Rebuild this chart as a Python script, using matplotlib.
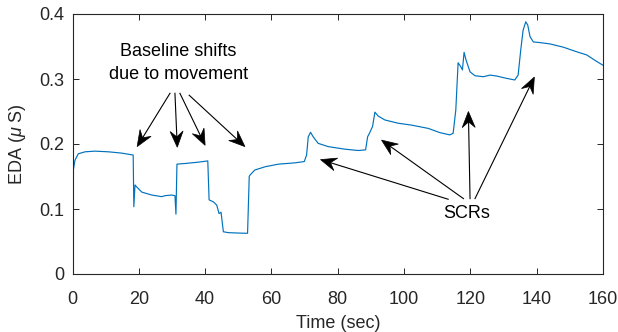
import matplotlib
matplotlib.use("Agg")
import matplotlib.pyplot as plt
from matplotlib.patches import Polygon
from matplotlib.lines import Line2D
import numpy as np

# ---- data ----
time_s = [0.25, 0.75, 1.75, 3.8, 6.8, 10.8, 14.8, 18.3, 18.5, 18.85, 19.35, 20.9, 23.9, 26.9,
          27.9, 29.9, 30.9, 31.2, 31.5, 33.9, 37.9, 40.8, 41.2, 42.5, 43.5, 44.2, 44.8, 45.5,
          47.0, 50.0, 52.8, 53.3, 53.5, 55.0, 58.1, 62.1, 67.1, 69.9, 70.6, 71.1, 71.8, 72.6,
          74.1, 77.1, 82.2, 86.2, 88.4, 89.0, 89.7, 90.5, 91.2, 92.2, 94.2, 98.2, 102.3, 107.3,
          110.8, 113.8, 114.8, 115.6, 116.3, 117.1, 117.6, 118.1, 118.7, 119.9, 121.4, 123.9,
          125.9, 127.9, 130.9, 133.4, 134.4, 135.2, 135.9, 136.7, 137.3, 138.0, 139.0, 141.0,
          144.0, 148.0, 152.0, 155.1, 158.1, 159.9]
eda_us = [0.160, 0.175, 0.185, 0.188, 0.189, 0.188, 0.186, 0.183, 0.1035, 0.137, 0.134, 0.126,
          0.1215, 0.119, 0.1205, 0.1215, 0.1205, 0.092, 0.169, 0.170, 0.172, 0.174, 0.114, 0.111,
          0.106, 0.093, 0.095, 0.065, 0.0636, 0.063, 0.0626, 0.150, 0.152, 0.160, 0.165, 0.169,
          0.171, 0.173, 0.183, 0.211, 0.218, 0.211, 0.201, 0.196, 0.192, 0.190, 0.191, 0.211,
          0.218, 0.227, 0.249, 0.243, 0.237, 0.232, 0.229, 0.224, 0.2175, 0.214, 0.2165, 0.252,
          0.325, 0.319, 0.314, 0.341, 0.329, 0.311, 0.305, 0.3035, 0.306, 0.3046, 0.301, 0.2985,
          0.306, 0.345, 0.375, 0.388, 0.383, 0.365, 0.357, 0.356, 0.354, 0.349, 0.342, 0.337,
          0.327, 0.3215]

x_ticks = [0, 20, 40, 60, 80, 100, 120, 140, 160]
y_ticks = [0, 0.1, 0.2, 0.3, 0.4]
y_tick_labels = ["0", "0.1", "0.2", "0.3", "0.4"]

movement_label = "Baseline shifts\ndue to movement"
movement_text_pos = (31.9, 0.3246)
# (tail, tip) in data units
movement_arrows = [((29.4, 0.278), (19.5, 0.196)),
                   ((30.9, 0.278), (31.6, 0.195)),
                   ((32.4, 0.278), (40.0, 0.198)),
                   ((35.2, 0.275), (52.0, 0.196))]

scr_label = "SCRs"
scr_text_pos = (119.0, 0.0928)
scr_arrows = [((113.3, 0.115), (74.8, 0.176)),
              ((117.9, 0.116), (93.2, 0.206)),
              ((119.9, 0.116), (119.4, 0.250)),
              ((121.4, 0.116), (139.3, 0.303))]

# ---- style ----
plt.rcParams['font.family'] = ['Liberation Sans', 'DejaVu Sans']
plt.rcParams['mathtext.fontset'] = 'custom'
plt.rcParams['mathtext.it'] = 'Liberation Sans:italic'
plt.rcParams['mathtext.rm'] = 'Liberation Sans'

AX = '#262626'
FS = 13

fig = plt.figure(figsize=(6.18, 3.32), dpi=100)
ax = fig.add_axes([72.5 / 618, 58 / 332, 530.5 / 618, 260 / 332])

ax.plot(time_s, eda_us, color='#0072BD', lw=0.85)

ax.set_xlim(0, 160)
ax.set_ylim(0, 0.4)
ax.set_xticks(x_ticks)
ax.set_xticklabels([str(v) for v in x_ticks])
ax.set_yticks(y_ticks)
ax.set_yticklabels(y_tick_labels)
ax.tick_params(direction='in', length=4, width=0.7, colors=AX, labelsize=FS,
               top=True, right=True, labelcolor=AX)
ax.tick_params(axis='x', pad=12)
ax.tick_params(axis='y', pad=6)
for s in ax.spines.values():
    s.set_color(AX)
    s.set_linewidth(0.8)

ax.set_xlabel('Time (sec)', fontsize=FS, color=AX, labelpad=5)
ax.set_ylabel(r'EDA ($\mu$ S)', fontsize=FS, color=AX, labelpad=8)

ax.text(*movement_text_pos, movement_label, ha='center', va='center',
        fontsize=FS, color='black', linespacing=1.5)
ax.text(*scr_text_pos, scr_label, ha='center', va='center', fontsize=FS, color='black')

# MATLAB-like 'vback2' arrows drawn in pixel space
HEAD_L = 16.0
HEAD_W = 13.0
NOTCH = 0.65


def draw_arrow(tail, tip):
    p0 = ax.transData.transform(tail)
    p1 = ax.transData.transform(tip)
    d = p1 - p0
    u = d / np.hypot(*d)
    n = np.array([-u[1], u[0]])
    notch = p1 - NOTCH * HEAD_L * u
    c1 = p1 - HEAD_L * u + HEAD_W / 2 * n
    c2 = p1 - HEAD_L * u - HEAD_W / 2 * n
    line = Line2D([p0[0], notch[0]], [p0[1], notch[1]], color='black', lw=0.8,
                  transform=None)
    fig.add_artist(line)
    poly = Polygon([p1, c1, notch, c2], closed=True, facecolor='black',
                   edgecolor='black', lw=0.5, transform=None)
    fig.add_artist(poly)


for tail, tip in movement_arrows + scr_arrows:
    draw_arrow(tail, tip)

fig.savefig('out.png', dpi=100)
